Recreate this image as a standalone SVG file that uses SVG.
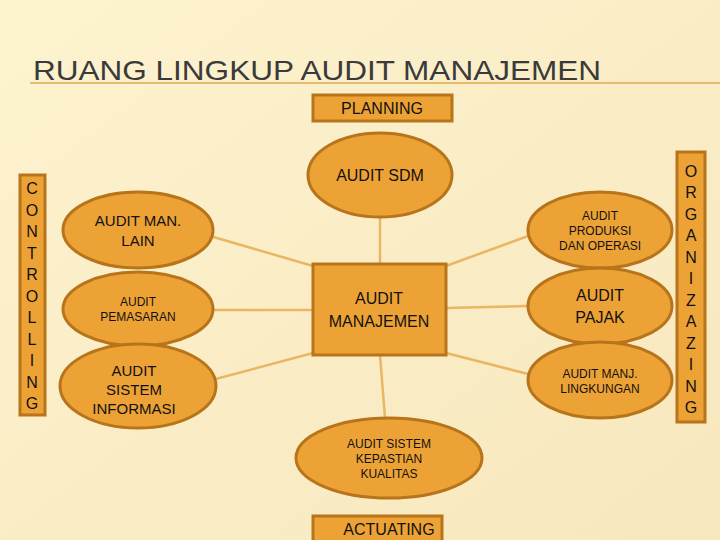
<svg xmlns="http://www.w3.org/2000/svg" width="720" height="540" viewBox="0 0 720 540">
<defs>
<linearGradient id="bg" x1="0" y1="0" x2="1" y2="1"><stop offset="0" stop-color="#FDF3CF"/><stop offset="1" stop-color="#F7E7BD"/></linearGradient>
</defs>
<style>
.n{fill:#EDA235;stroke:#B8741A;stroke-width:3}
.t{font-family:"Liberation Sans",Arial,sans-serif;fill:#111;text-anchor:middle}
.c{stroke:#EBB661;stroke-width:2.5;fill:none}
</style>
<rect width="720" height="540" fill="url(#bg)"/>
<text x="33" y="80" font-family="'Liberation Sans',sans-serif" font-size="26" fill="#3a3a3a" textLength="568" lengthAdjust="spacingAndGlyphs" transform="translate(33 80) scale(1 1.08) translate(-33 -80)">RUANG LINGKUP AUDIT MANAJEMEN</text>
<line x1="30" y1="83" x2="720" y2="83" stroke="#E0A850" stroke-width="1.5"/>
<g id="connectors" class="c">
<line x1="380" y1="264" x2="380" y2="217"/>
<line x1="313" y1="266" x2="210" y2="236"/>
<line x1="313" y1="310" x2="213" y2="310"/>
<line x1="313" y1="353" x2="212" y2="380"/>
<line x1="446" y1="266" x2="528" y2="236"/>
<line x1="446" y1="308" x2="528" y2="306"/>
<line x1="446" y1="353" x2="528" y2="374"/>
<line x1="380" y1="355" x2="385" y2="418"/>
</g>
<g id="planning"><rect class="n" x="313" y="95" width="139" height="26"/><text class="t" x="382" y="114" font-size="16">PLANNING</text></g>
<g id="sdm"><ellipse class="n" cx="380" cy="175" rx="72" ry="42"/><text class="t" x="380" y="181" font-size="16">AUDIT SDM</text></g>
<g id="center"><rect class="n" x="313" y="264" width="133" height="91"/><text class="t" x="379" y="304" font-size="16">AUDIT</text><text class="t" x="379" y="327" font-size="16">MANAJEMEN</text></g>
<g id="kualitas"><ellipse class="n" cx="389" cy="458" rx="93" ry="40"/><text class="t" x="389" y="448" font-size="12">AUDIT SISTEM</text><text class="t" x="389" y="463" font-size="12">KEPASTIAN</text><text class="t" x="389" y="478" font-size="12">KUALITAS</text></g>
<g id="actuating"><rect class="n" x="313" y="516" width="129" height="26"/><text class="t" x="389" y="535" font-size="16">ACTUATING</text></g>
<g id="manlain"><ellipse class="n" cx="138" cy="230" rx="75" ry="38"/><text class="t" x="138" y="226" font-size="15">AUDIT MAN.</text><text class="t" x="138" y="246" font-size="15">LAIN</text></g>
<g id="pemasaran"><ellipse class="n" cx="138" cy="309" rx="75" ry="37"/><text class="t" x="138" y="306" font-size="12">AUDIT</text><text class="t" x="138" y="321" font-size="12">PEMASARAN</text></g>
<g id="sisinfo"><ellipse class="n" cx="138" cy="386" rx="78" ry="42"/><text class="t" x="134" y="376" font-size="15">AUDIT</text><text class="t" x="134" y="395" font-size="15">SISTEM</text><text class="t" x="134" y="414" font-size="15">INFORMASI</text></g>
<g id="produksi"><ellipse class="n" cx="600" cy="230" rx="72" ry="38"/><text class="t" x="600" y="220" font-size="12">AUDIT</text><text class="t" x="600" y="235" font-size="12">PRODUKSI</text><text class="t" x="600" y="250" font-size="12">DAN OPERASI</text></g>
<g id="pajak"><ellipse class="n" cx="600" cy="306" rx="72" ry="38"/><text class="t" x="600" y="301" font-size="16">AUDIT</text><text class="t" x="600" y="323" font-size="16">PAJAK</text></g>
<g id="lingkungan"><ellipse class="n" cx="600" cy="380" rx="72" ry="38"/><text class="t" x="600" y="378" font-size="12">AUDIT MANJ.</text><text class="t" x="600" y="393" font-size="12">LINGKUNGAN</text></g>
<g id="controlling"><rect class="n" x="20" y="175" width="25" height="240"/>
<text class="t" x="32" y="194" font-size="16">C</text><text class="t" x="32" y="215.5" font-size="16">O</text><text class="t" x="32" y="237" font-size="16">N</text><text class="t" x="32" y="258.5" font-size="16">T</text><text class="t" x="32" y="280" font-size="16">R</text><text class="t" x="32" y="301.5" font-size="16">O</text><text class="t" x="32" y="323" font-size="16">L</text><text class="t" x="32" y="344.5" font-size="16">L</text><text class="t" x="32" y="366" font-size="16">I</text><text class="t" x="32" y="387.5" font-size="16">N</text><text class="t" x="32" y="409" font-size="16">G</text></g>
<g id="organizing"><rect class="n" x="677" y="152" width="28" height="270"/>
<text class="t" x="691" y="177" font-size="16">O</text><text class="t" x="691" y="198" font-size="16">R</text><text class="t" x="691" y="219.5" font-size="16">G</text><text class="t" x="691" y="241" font-size="16">A</text><text class="t" x="691" y="262.5" font-size="16">N</text><text class="t" x="691" y="284" font-size="16">I</text><text class="t" x="691" y="305.5" font-size="16">Z</text><text class="t" x="691" y="327" font-size="16">A</text><text class="t" x="691" y="348.5" font-size="16">Z</text><text class="t" x="691" y="370" font-size="16">I</text><text class="t" x="691" y="391.5" font-size="16">N</text><text class="t" x="691" y="413" font-size="16">G</text></g>
</svg>
